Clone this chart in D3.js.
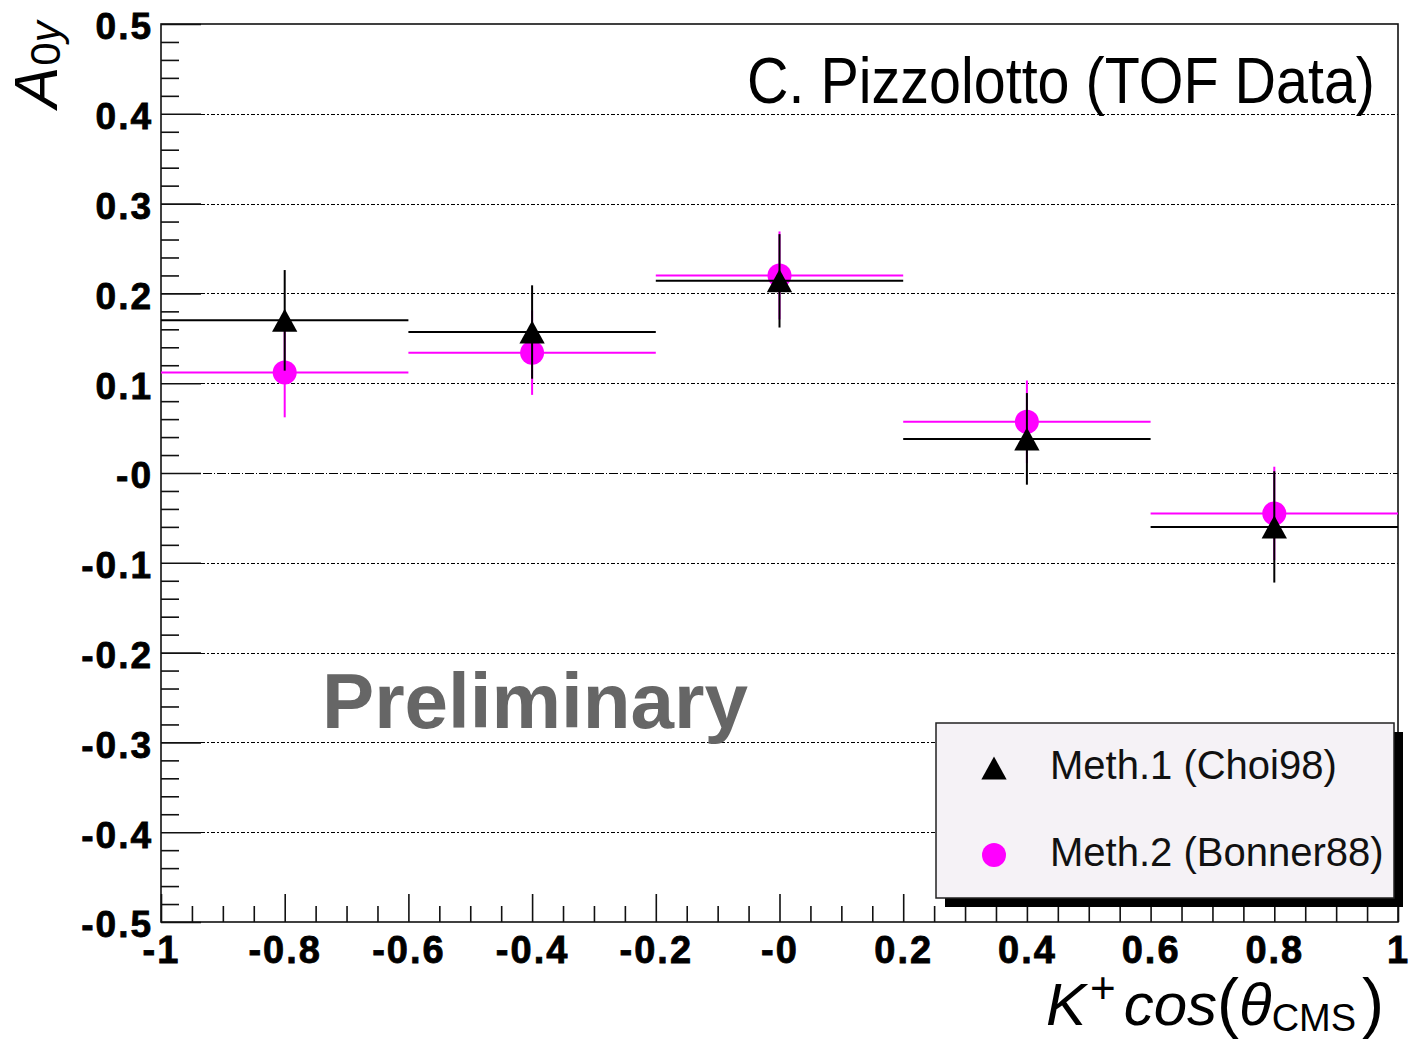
<!DOCTYPE html>
<html>
<head>
<meta charset="utf-8">
<script src="https://cdn.jsdelivr.net/npm/d3@7"></script>
<style>
  html, body { margin: 0; padding: 0; background: #fff; }
  svg { display: block; font-family: "Liberation Sans", Arial, Helvetica, sans-serif; }
</style>
</head>
<body>
<svg id="chart" width="1412" height="1040"></svg>
<script>
  // bin centres and half width (cos theta)
  var binCentres = [-0.8, -0.4, 0, 0.4, 0.8];
  var binHalfWidth = 0.2;

  // Meth.1 (Choi98) - black triangles
  var meth1Values = [0.170, 0.157, 0.214, 0.038, -0.060];
  var meth1Errors = [0.056, 0.052, 0.052, 0.051, 0.062];

  // Meth.2 (Bonner88) - magenta circles
  var meth2Values = [0.112, 0.134, 0.220, 0.057, -0.045];
  var meth2Errors = [0.050, 0.047, 0.049, 0.046, 0.052];

  var xMajorTicks = [-1, -0.8, -0.6, -0.4, -0.2, 0, 0.2, 0.4, 0.6, 0.8, 1];
  var xTickLabels = ["-1", "-0.8", "-0.6", "-0.4", "-0.2", "-0", "0.2", "0.4", "0.6", "0.8", "1"];
  var yMajorTicks = [-0.5, -0.4, -0.3, -0.2, -0.1, 0, 0.1, 0.2, 0.3, 0.4, 0.5];
  var yTickLabels = ["-0.5", "-0.4", "-0.3", "-0.2", "-0.1", "-0", "0.1", "0.2", "0.3", "0.4", "0.5"];
  var gridLevels = [-0.4, -0.3, -0.2, -0.1, 0, 0.1, 0.2, 0.3, 0.4];

  var legendLabels = ["Meth.1 (Choi98)", "Meth.2 (Bonner88)"];

  var plotLeft = 161, plotRight = 1398, plotTop = 24, plotBottom = 922;
  var svg = d3.select("#chart");
  var x = d3.scaleLinear().domain([-1, 1]).range([plotLeft, plotRight]);
  var y = d3.scaleLinear().domain([-0.5, 0.5]).range([plotBottom, plotTop]);

  svg.append("rect").attr("width", 1412).attr("height", 1040).attr("fill", "#fff");

  // minor ticks every 0.05 on x, 0.02 on y
  var xMinorTicks = d3.range(-20, 21).map(function (i) { return i * 0.05; })
    .filter(function (v) { return Math.abs(Math.round(v * 5) - v * 5) > 1e-6; });
  var yMinorTicks = d3.range(-25, 26).map(function (i) { return i * 0.02; })
    .filter(function (v) { return Math.abs(Math.round(v * 10) - v * 10) > 1e-6; });

  // dash-dot grid
  svg.append("g").selectAll("line").data(gridLevels).enter().append("line")
    .attr("x1", plotLeft).attr("x2", plotRight)
    .attr("y1", function (d) { return Math.round(y(d)) + 0.5; })
    .attr("y2", function (d) { return Math.round(y(d)) + 0.5; })
    .attr("stroke", "#000").attr("stroke-width", 1.2)
    .attr("stroke-dasharray", function (d) { return d === 0 ? "9,2,1,2" : "4,2,2,2"; });

  // axes
  var xAxis = svg.append("g").attr("transform", "translate(0," + plotBottom + ")");
  xAxis.call(d3.axisBottom(x).tickValues(xMinorTicks).tickSize(-16).tickFormat(""));
  xAxis.select(".domain").remove();
  var xMajor = svg.append("g").attr("transform", "translate(0," + plotBottom + ")")
    .call(d3.axisBottom(x).tickValues(xMajorTicks).tickSize(-28)
      .tickFormat(function (d, i) { return xTickLabels[i]; }));
  xMajor.select(".domain").remove();
  xMajor.selectAll("text").attr("y", 41).attr("dy", 0)
    .attr("font-size", 38).attr("font-weight", "bold").attr("fill", "#000")
    .attr("letter-spacing", 2);

  var yAxis = svg.append("g").attr("transform", "translate(" + plotLeft + ",0)");
  yAxis.call(d3.axisLeft(y).tickValues(yMinorTicks).tickSize(-18).tickFormat(""));
  yAxis.select(".domain").remove();
  var yMajor = svg.append("g").attr("transform", "translate(" + plotLeft + ",0)")
    .call(d3.axisLeft(y).tickValues(yMajorTicks).tickSize(-40).tickPadding(8)
      .tickFormat(function (d, i) { return yTickLabels[i]; }));
  yMajor.select(".domain").remove();
  yMajor.selectAll("text").attr("dy", "0.4em")
    .attr("font-size", 37).attr("font-weight", "bold").attr("fill", "#000")
    .attr("letter-spacing", 2);
  svg.selectAll(".tick line").attr("stroke", "#111").attr("stroke-width", 1.6);
  svg.selectAll(".tick text").attr("font-family", "'Liberation Sans', Arial, sans-serif")
    .attr("stroke", "#000").attr("stroke-width", 0.8);

  // frame
  svg.append("rect").attr("x", plotLeft).attr("y", plotTop)
    .attr("width", plotRight - plotLeft).attr("height", plotBottom - plotTop)
    .attr("fill", "none").attr("stroke", "#111").attr("stroke-width", 1.6);

  // triangle centred on its bounding box (ROOT marker 22)
  var triangleUp = {
    draw: function (ctx, size) {
      var h = Math.sqrt(size);
      ctx.moveTo(0, -h / 2);
      ctx.lineTo(h * 0.55, h / 2);
      ctx.lineTo(-h * 0.55, h / 2);
      ctx.closePath();
    }
  };

  function drawSeries(values, errors, color, lineWidth, symbol) {
    var g = svg.append("g");
    var pts = binCentres.map(function (c, i) { return { c: c, v: values[i], e: errors[i] }; });
    g.selectAll(".hbar").data(pts).enter().append("line")
      .attr("x1", function (d) { return x(d.c - binHalfWidth); })
      .attr("x2", function (d) { return x(d.c + binHalfWidth); })
      .attr("y1", function (d) { return y(d.v); })
      .attr("y2", function (d) { return y(d.v); })
      .attr("stroke", color).attr("stroke-width", lineWidth);
    g.selectAll(".vbar").data(pts).enter().append("line")
      .attr("x1", function (d) { return x(d.c); })
      .attr("x2", function (d) { return x(d.c); })
      .attr("y1", function (d) { return y(d.v + d.e); })
      .attr("y2", function (d) { return y(d.v - d.e); })
      .attr("stroke", color).attr("stroke-width", lineWidth);
    g.selectAll(".marker").data(pts).enter().append("path")
      .attr("d", symbol)
      .attr("transform", function (d) { return "translate(" + x(d.c) + "," + y(d.v) + ")"; })
      .attr("fill", color);
  }

  var circleSym = d3.symbol().type(d3.symbolCircle).size(Math.PI * 12 * 12);
  var triSym = d3.symbol().type(triangleUp).size(23 * 23);

  drawSeries(meth2Values, meth2Errors, "#ff00ff", 2, circleSym());
  drawSeries(meth1Values, meth1Errors, "#000", 2, triSym());

  // title text
  svg.append("text").attr("x", 747).attr("y", 103)
    .attr("font-size", 64).attr("fill", "#000")
    .attr("textLength", 628).attr("lengthAdjust", "spacingAndGlyphs")
    .text("C. Pizzolotto (TOF Data)");

  svg.append("text").attr("x", 322).attr("y", 728)
    .attr("font-size", 78).attr("font-weight", "bold").attr("fill", "#666")
    .attr("textLength", 426).attr("lengthAdjust", "spacingAndGlyphs")
    .text("Preliminary");

  // y axis title
  var yt = svg.append("text").attr("transform", "translate(57,108) rotate(-90)")
    .attr("fill", "#000");
  yt.append("tspan").attr("font-size", 62).attr("font-style", "italic").text("A");
  yt.append("tspan").attr("font-size", 42).attr("dy", 3).attr("dx", 1).text("0");
  yt.append("tspan").attr("font-size", 42).attr("font-style", "italic").text("y");

  // x axis title
  var xt = svg.append("text").attr("x", 1046).attr("y", 1025).attr("fill", "#000");
  xt.append("tspan").attr("font-size", 60).attr("font-style", "italic").text("K");
  xt.append("tspan").attr("font-size", 44).attr("dy", -22).attr("dx", 4).text("+");
  xt.append("tspan").attr("font-size", 60).attr("font-style", "italic").attr("dy", 22).attr("dx", 8).text("cos");
  xt.append("tspan").attr("font-size", 66).attr("dx", 0).text("(");
  xt.append("tspan").attr("font-size", 60).attr("font-style", "italic").text("\u03b8");
  xt.append("tspan").attr("font-size", 38).attr("dy", 6).text("CMS");
  xt.append("tspan").attr("font-size", 66).attr("dy", -6).attr("dx", 6).text(")");

  // legend
  var lg = svg.append("g");
  lg.append("rect").attr("x", 945).attr("y", 732).attr("width", 458).attr("height", 175).attr("fill", "#000");
  lg.append("rect").attr("x", 936).attr("y", 723).attr("width", 458).attr("height", 175)
    .attr("fill", "#f5f2f6").attr("stroke", "#222").attr("stroke-width", 1.5);
  lg.append("path").attr("d", triSym()).attr("transform", "translate(994,768)").attr("fill", "#000");
  lg.append("path").attr("d", circleSym()).attr("transform", "translate(994,855)").attr("fill", "#ff00ff");
  lg.selectAll(".lt").data(legendLabels).enter().append("text")
    .attr("x", 1050).attr("y", function (d, i) { return 779 + i * 87; })
    .attr("font-size", 40).attr("fill", "#111")
    .text(function (d) { return d; });
</script>
</body>
</html>
